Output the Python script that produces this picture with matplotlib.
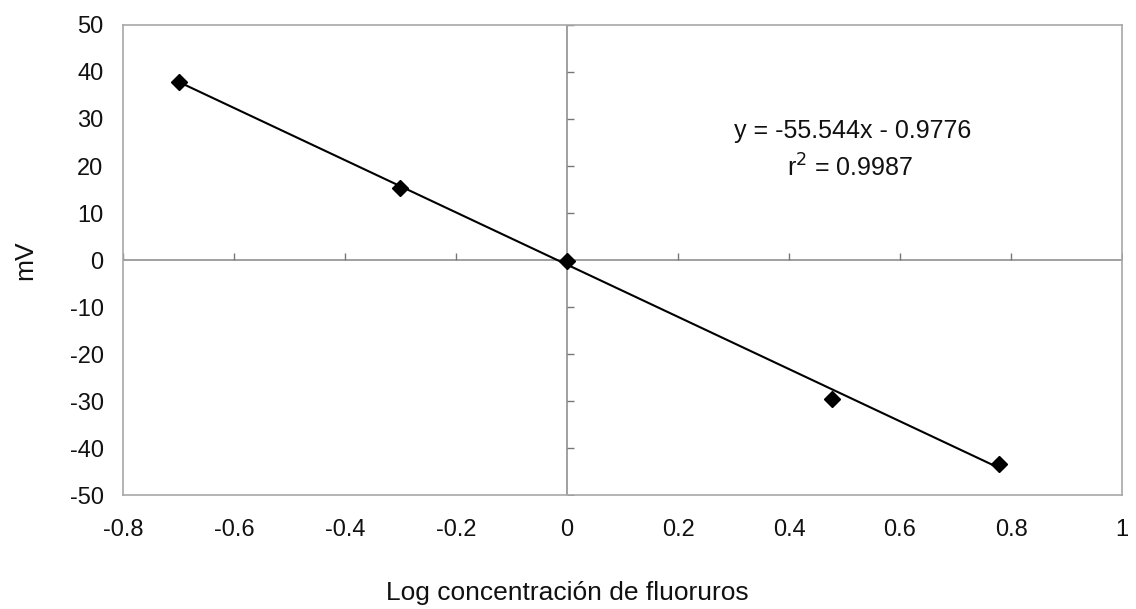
import numpy as np
import matplotlib.pyplot as plt
from matplotlib.ticker import FuncFormatter

plt.rcParams['font.family'] = ['Liberation Sans', 'DejaVu Sans']

# log10 of fluoride concentration vs electrode potential
log_conc = [-0.699, -0.301, 0.0, 0.477, 0.778]
mv = [37.9, 15.3, -0.3, -29.6, -43.3]

slope = -55.544
intercept = -0.9776
r2 = 0.9987

x_ticks = [-0.8, -0.6, -0.4, -0.2, 0, 0.2, 0.4, 0.6, 0.8, 1]
x_labels = ['-0.8', '-0.6', '-0.4', '-0.2', '0', '0.2', '0.4', '0.6', '0.8', '1']
y_ticks = [-50, -40, -30, -20, -10, 0, 10, 20, 30, 40, 50]

fig = plt.figure(figsize=(11.36, 6.09), dpi=100)
ax = fig.add_axes([0.1083, 0.187, 0.8794, 0.772])

ax.set_xlim(-0.8, 1)
ax.set_ylim(-50, 50)
ax.set_xticks(x_ticks)
ax.set_xticklabels(x_labels)
ax.set_yticks(y_ticks)
ax.yaxis.set_major_formatter(FuncFormatter(lambda v, p: f'{v:.0f}'))
ax.tick_params(length=0, labelsize=17, colors='#111111')
ax.tick_params(axis='x', pad=17)
ax.tick_params(axis='y', pad=14)
for s in ax.spines.values():
    s.set_color('#a8a8a8')
    s.set_linewidth(1.2)

# axes crossing at zero, with small inward ticks
zero_c = '#999999'
ax.axhline(0, color=zero_c, lw=1.3, zorder=1)
ax.axvline(0, color=zero_c, lw=1.3, zorder=1)
ax.plot(x_ticks, np.zeros(len(x_ticks)), ls='none', marker=2, ms=5,
        mew=1.0, color='#777777', zorder=1)
ax.plot(np.zeros(len(y_ticks)), y_ticks, ls='none', marker=1, ms=5,
        mew=1.0, color='#777777', zorder=1)

# linear trendline over the data range
xf = np.array([min(log_conc), max(log_conc)])
ax.plot(xf, slope * xf + intercept, color='black', lw=1.5, zorder=2)
ax.plot(log_conc, mv, ls='none', marker='D', ms=8.5, color='black', zorder=3)

ax.text(0.515, 27.4, f'y = {slope}x - {abs(intercept)}', ha='center',
        va='center', fontsize=18, color='#111111')
ax.text(0.51, 19.6, f'r$^2$ = {r2}', ha='center', va='center',
        fontsize=18, color='#111111')

fig.text(25 / 1136, 1 - 260 / 609, 'mV', rotation=90, ha='center',
         va='center', fontsize=19, color='#111111')
fig.text(567 / 1136, 1 - 593 / 609, 'Log concentración de fluoruros',
         ha='center', va='center', fontsize=19, color='#111111')

fig.savefig('out.png', dpi=100)
